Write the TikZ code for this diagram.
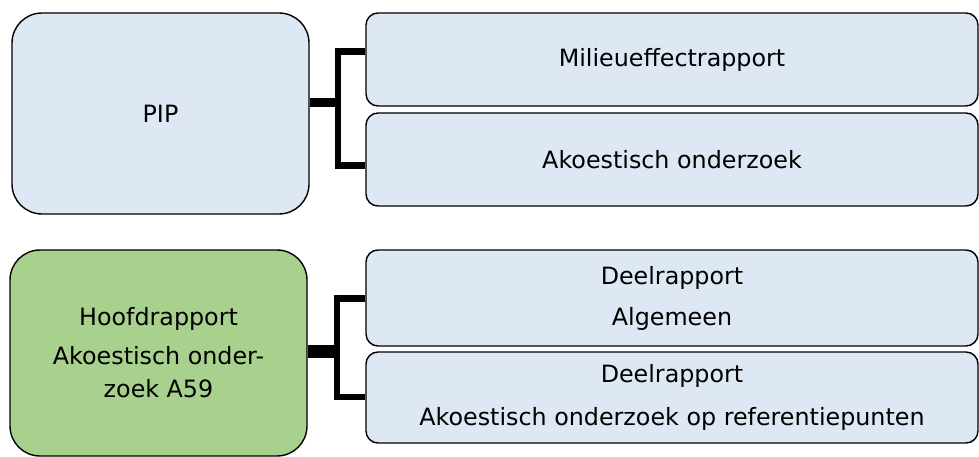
\documentclass[tikz,border=0pt]{standalone}
\usepackage{fontspec}
\setmainfont{DejaVu Sans}
\definecolor{boxblue}{HTML}{DEE8F4}
\definecolor{boxgreen}{HTML}{A9D18E}
\begin{document}
\begin{tikzpicture}[x=1pt,y=-1pt,
  bigbox/.style={draw=black,line width=1.4pt,rounded corners=30pt,minimum width=297pt,align=center,inner sep=0pt,
    font=\fontsize{23.8}{33}\selectfont},
  subbox/.style={draw=black,line width=1.4pt,rounded corners=12pt,fill=boxblue,minimum width=612pt,align=center,inner sep=0pt,
    font=\fontsize{23.8}{33}\selectfont},
  conn/.style={draw=black,line width=6.8pt,line join=miter},
]
\useasboundingbox (0,0) rectangle (979,457);
\node[bigbox,fill=boxblue,minimum height=201pt] (pip) at (160.5,113.5) {PIP};
\node[subbox,minimum height=93pt] (m1) at (672,59.5) {Milieueffectrapport};
\node[subbox,minimum height=93pt] (m2) at (672,159.5) {Akoestisch onderzoek};
\node[bigbox,fill=boxgreen,minimum height=206pt] (hr) at (158.5,353) {Hoofdrapport\\[6pt]Akoestisch onder-\\zoek A59};
\node[subbox,minimum height=96pt] (d1) at (672,298) {Deelrapport\\[8pt]Algemeen};
\node[subbox,minimum height=91pt] (d2) at (672,397.5) {Deelrapport\\[10pt]Akoestisch onderzoek op referentiepunten};
% top connector
\coordinate (ja) at (338,103);
\coordinate (jat) at (338,51.7);
\coordinate (jab) at (338,165.3);
\draw[conn,line width=9pt] (pip.east |- ja) -- (ja);
\draw[conn] (m1.west |- jat) -- (jat) -- (jab) -- (m2.west |- jab);
% bottom connector
\coordinate (jb) at (337,351.7);
\coordinate (jbt) at (337,298.3);
\coordinate (jbb) at (337,397);
\draw[conn,line width=13pt] (hr.east |- jb) -- (jb);
\draw[conn] (d1.west |- jbt) -- (jbt) -- (jbb) -- (d2.west |- jbb);
\end{tikzpicture}
\end{document}
